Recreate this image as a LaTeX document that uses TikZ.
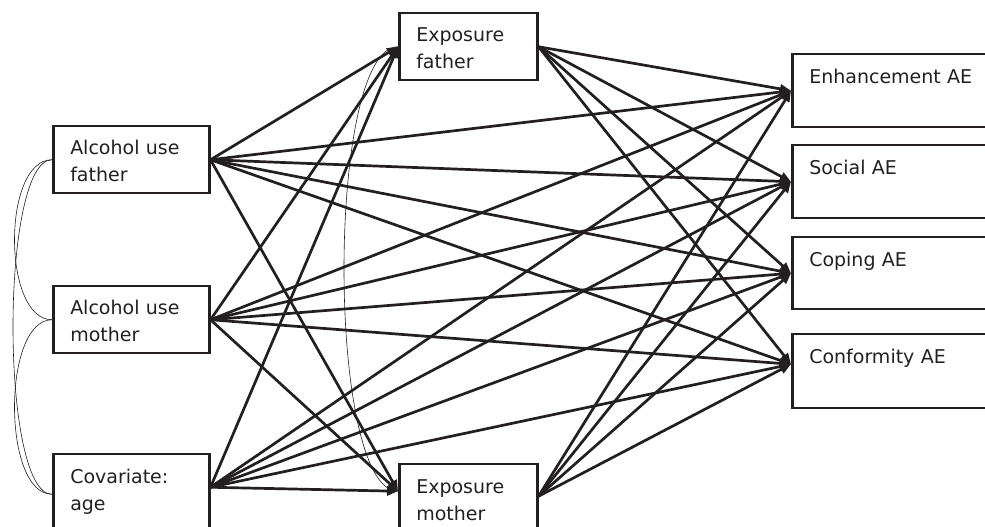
\documentclass[tikz,border=0pt]{standalone}
\usepackage{fontspec}
\setmainfont{DejaVu Sans}
\usetikzlibrary{arrows.meta}
\definecolor{ink}{HTML}{231F20}

\begin{document}
\begin{tikzpicture}[x=1pt, y=1pt,
		box/.style={draw=ink, line width=2.5pt, anchor=north west, align=left, inner xsep=17pt, inner ysep=0pt, text=ink, font=\fontsize{19}{27}\selectfont},
		eff/.style={draw=ink, line width=2.7pt, -{Triangle[length=11pt, width=9pt]}},
		cov/.style={draw=ink, line width=0.6pt}]
			\useasboundingbox (0, 0) rectangle (985, 527);
			\clip (0, 0) rectangle (985, 527);
			% predictors
			\node[box, text width=122pt, text height=28pt, text depth=39pt] (AF) at (52, 402) {Alcohol use\\father};
			\node[box, text width=122pt, text height=28pt, text depth=39pt] (AM) at (52, 242) {Alcohol use\\mother};
			\node[box, text width=122pt, text height=29pt, text depth=51pt] (Age) at (52, 74) {Covariate:\\age};
			% mediators
			\node[box, text width=104pt, text height=28pt, text depth=39pt] (EF) at (398, 515) {Exposure\\father};
			\node[box, text width=104pt, text height=29pt, text depth=51pt] (EM) at (398, 64) {Exposure\\mother};
			% outcomes
			\node[box, text width=176pt, text height=29pt, text depth=44pt] (En) at (791, 474) {Enhancement AE};
			\node[box, text width=176pt, text height=29pt, text depth=44pt] (So) at (791, 383) {Social AE};
			\node[box, text width=176pt, text height=29pt, text depth=43pt] (Co) at (791, 291) {Coping AE};
			\node[box, text width=176pt, text height=29pt, text depth=45pt] (Cf) at (791, 194) {Conformity AE};
			% covariances
			\draw[cov] (AF.west) .. controls +(-50, 0) and +(-50, 0) .. (AM.west);
			\draw[cov] (AM.west) .. controls +(-50, 0) and +(-50, 0) .. (Age.west);
			\draw[cov] (AF.west) .. controls +(-52, 0) and +(-52, 0) .. (Age.west);
			\draw[cov] (EF.west) .. controls +(-72, 0) and +(-72, 0) .. ([yshift=13pt]EM.west);
			% paths from alcohol use father
			\draw[eff] (AF.east) -- (EF.west);
			\draw[eff] (AF.east) -- ([yshift=13pt]EM.west);
			\draw[eff] (AF.east) -- (En.west);
			\draw[eff] (AF.east) -- (So.west);
			\draw[eff] (AF.east) -- (Co.west);
			\draw[eff] (AF.east) -- ([yshift=7pt]Cf.west);
			% paths from alcohol use mother
			\draw[eff] (AM.east) -- (EF.west);
			\draw[eff] (AM.east) -- ([yshift=13pt]EM.west);
			\draw[eff] (AM.east) -- (En.west);
			\draw[eff] (AM.east) -- (So.west);
			\draw[eff] (AM.east) -- (Co.west);
			\draw[eff] (AM.east) -- ([yshift=7pt]Cf.west);
			% paths from age
			\draw[eff] ([yshift=7pt]Age.east) -- (EF.west);
			\draw[eff] ([yshift=7pt]Age.east) -- ([yshift=13pt]EM.west);
			\draw[eff] ([yshift=7pt]Age.east) -- (En.west);
			\draw[eff] ([yshift=7pt]Age.east) -- (So.west);
			\draw[eff] ([yshift=7pt]Age.east) -- (Co.west);
			\draw[eff] ([yshift=7pt]Age.east) -- ([yshift=7pt]Cf.west);
			% paths from exposure
			\draw[eff] (EF.east) -- (En.west);
			\draw[eff] (EF.east) -- (So.west);
			\draw[eff] (EF.east) -- (Co.west);
			\draw[eff] (EF.east) -- ([yshift=7pt]Cf.west);
			\draw[eff] ([yshift=8pt]EM.east) -- (En.west);
			\draw[eff] ([yshift=8pt]EM.east) -- (So.west);
			\draw[eff] ([yshift=8pt]EM.east) -- (Co.west);
			\draw[eff] ([yshift=8pt]EM.east) -- ([yshift=7pt]Cf.west);
	\end{tikzpicture}
\end{document}
